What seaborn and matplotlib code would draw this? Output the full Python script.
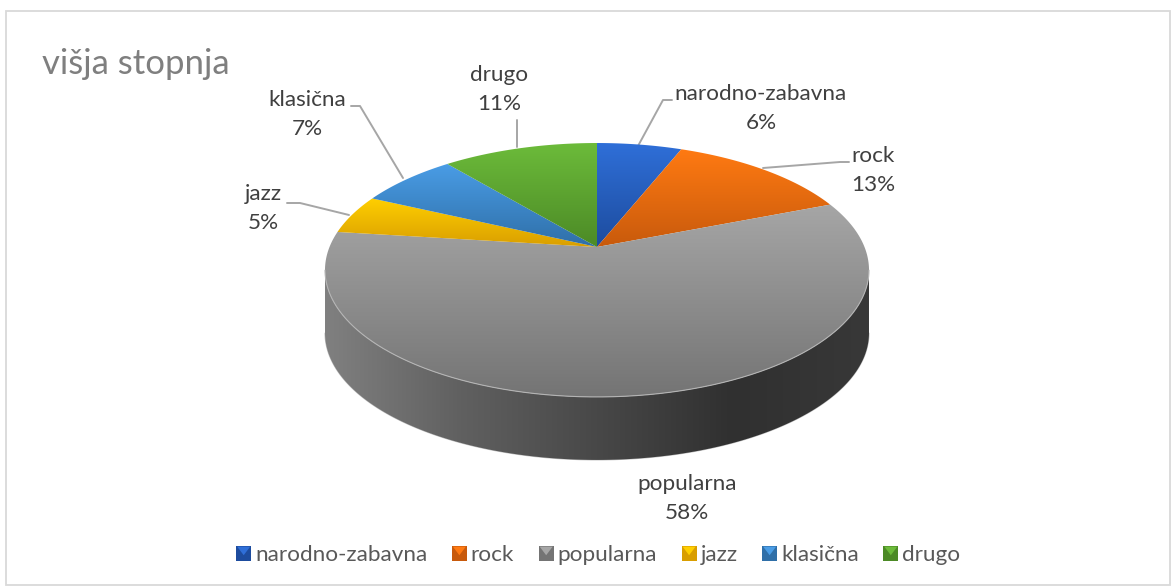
import numpy as np
import matplotlib
matplotlib.use('Agg')
import matplotlib.pyplot as plt
from matplotlib.legend_handler import HandlerBase
from matplotlib.patches import Patch, Polygon, Rectangle
import seaborn as sns

title = 'višja stopnja'
categories = ['narodno-zabavna', 'rock', 'popularna', 'jazz', 'klasična', 'drugo']
shares = [6, 13, 58, 5, 7, 11]

# light end / dark end of each slice gradient
top_colors = ['#2f6fd8', '#ff7a12', '#a6a6a6', '#ffcf00', '#4a9de6', '#6cbb3a']
bottom_colors = ['#1d4c9e', '#c85a0c', '#747474', '#d99e00', '#2f6fa8', '#4c8a26']
wall_colors = ['#808080', '#606060', '#484848', '#303030', '#383838']

label_pos = [(761, 94), (873, 156), (687, 484), (263, 194), (307, 100), (499, 75)]
leaders = [
    [(638, 146), (663, 100), (672, 100)],
    [(763, 168), (840, 162), (849, 162)],
    None,
    [(349, 215), (300, 203), (287, 203)],
    [(403, 178), (360, 106), (351, 106)],
    [(517, 147), (517, 120)],
]

FONT = 'Lato'
LABEL_SIZE = 16.2
X0, Y0 = 597, 247
K = 0.181
A, B = 122.8, 267.5
DEPTH = 63


def project(angle):
    # tilted disc with perspective, angle clockwise from 12 o'clock
    x, y = np.sin(angle), np.cos(angle)
    w = 1 + K * y
    return np.column_stack([X0 + B * x / w, Y0 - A * y / w])


class SquareHandler(HandlerBase):
    def create_artists(self, legend, orig, xd, yd, width, height, fontsize, trans):
        s = 10.8
        x0, y0 = (width - s) / 2 - xd, (height - s) / 2 - yd
        dark = Rectangle((x0, y0), s, s, facecolor=orig.get_edgecolor(),
                         edgecolor='none', transform=trans)
        tri = Polygon([(x0 + 0.7, y0 + s - 0.7), (x0 + s - 0.7, y0 + s - 0.7), (x0 + s / 2, y0 + s / 2 - 1.5)],
                      facecolor=orig.get_facecolor(), edgecolor='none', transform=trans)
        return [dark, tri]


sns.set_theme(style='white')
plt.rcParams['font.family'] = [FONT, 'DejaVu Sans']

fig = plt.figure(figsize=(11.71, 5.88), dpi=100)
ax = fig.add_axes([0, 0, 1, 1])
ax.axis('off')

ax.add_patch(Rectangle((6, 11), 1163.5, 574, facecolor='white', edgecolor='#d9d9d9', linewidth=1.3))

# side wall
t = np.linspace(0, 2 * np.pi, 1441)
rim = project(t)
right = np.argmax(rim[:, 0])
left = np.argmin(rim[:, 0])
front = rim[right:left + 1]
wall = np.vstack([front, (front + [0, DEPTH])[::-1]])
wall_patch = Polygon(wall, closed=True, facecolor='none', edgecolor='none')
ax.add_patch(wall_patch)
wall_cmap = sns.blend_palette(wall_colors, as_cmap=True)
im = ax.imshow(np.linspace(0, 1, 256)[None, :], cmap=wall_cmap, aspect='auto',
               extent=(rim[left, 0], rim[right, 0], 470, 250), zorder=2)
im.set_clip_path(wall_patch)
ax.plot(*(front + [0, DEPTH]).T, color='#c4c4c4', lw=0.8, zorder=1.9)

# slices on the top face
edges = np.concatenate([[0], np.cumsum(shares)]) / np.sum(shares) * 2 * np.pi
for i, name in enumerate(categories):
    arc = project(np.linspace(edges[i], edges[i + 1], 300))
    pts = np.vstack([[X0, Y0], arc])
    patch = Polygon(pts, closed=True, facecolor='none', edgecolor='none', zorder=3)
    ax.add_patch(patch)
    cmap = sns.blend_palette([top_colors[i], bottom_colors[i]], as_cmap=True)
    im = ax.imshow(np.linspace(0, 1, 256)[:, None], cmap=cmap, aspect='auto', zorder=3,
                   extent=(pts[:, 0].min(), pts[:, 0].max(), pts[:, 1].max(), pts[:, 1].min()))
    im.set_clip_path(patch)
ax.plot(*front.T, color='#b4b4b4', lw=0.8, zorder=4)

# data labels and leader lines
for name, share, pos, line in zip(categories, shares, label_pos, leaders):
    ax.text(pos[0], pos[1], name, ha='center', va='center', fontsize=LABEL_SIZE, color='#404040', zorder=6)
    ax.text(pos[0], pos[1] + 29, f'{share}%', ha='center', va='center', fontsize=LABEL_SIZE, color='#404040', zorder=6)
    if line:
        ax.plot(*np.array(line).T, color='#a6a6a6', lw=1.4, zorder=1.5)

ax.text(42, 64, title, ha='left', va='center', fontsize=25, color='#7f7f7f')

handles = [Patch(facecolor=c, edgecolor=d, label=n) for c, d, n in zip(top_colors, bottom_colors, categories)]
ax.legend(handles=handles, loc='center', bbox_to_anchor=(598, 555), bbox_transform=ax.transData,
          ncol=6, frameon=False, fontsize=LABEL_SIZE, labelcolor='#595959',
          handler_map={Patch: SquareHandler()}, handlelength=0.72, handleheight=0.72,
          handletextpad=0.15, columnspacing=1.06, borderpad=0, borderaxespad=0)

ax.set_xlim(0, 1171)
ax.set_ylim(588, 0)

fig.savefig('out.png', dpi=100)
